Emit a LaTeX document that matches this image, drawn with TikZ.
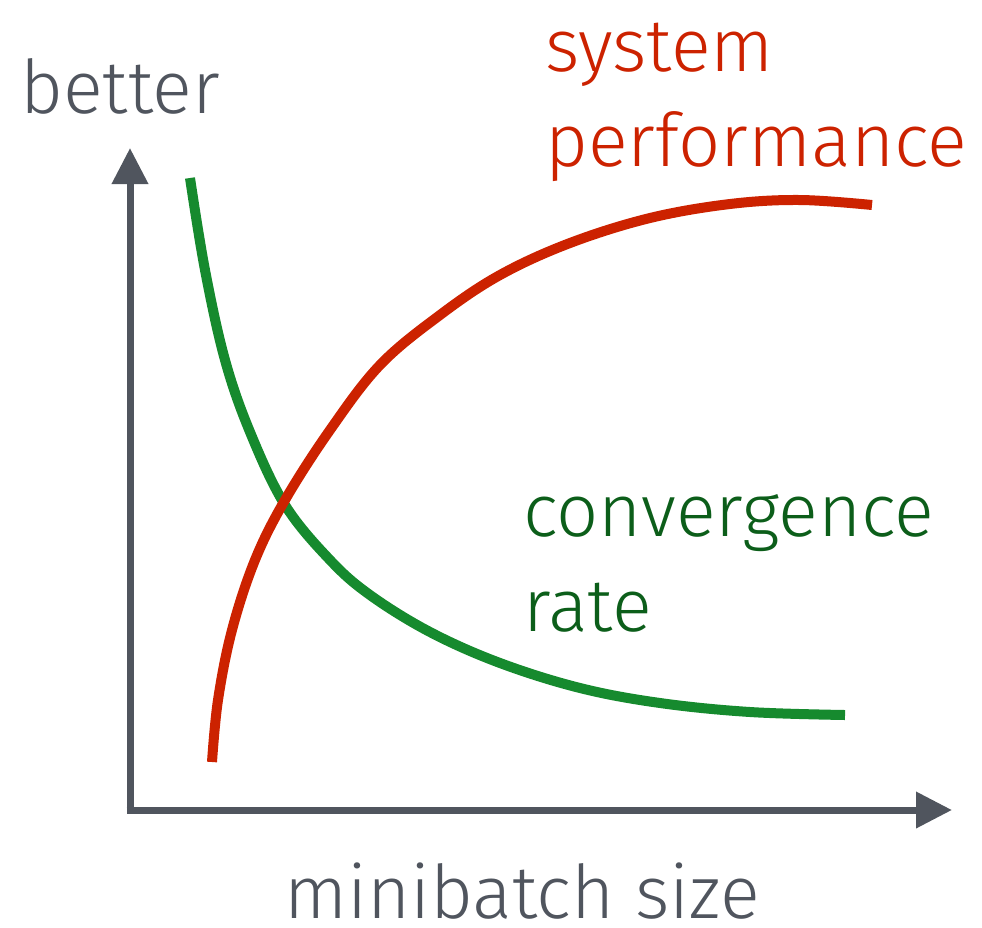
\documentclass[tikz,border=0pt]{standalone}
\usepackage{fontspec}
\setmainfont{Fira Sans Light}
\usetikzlibrary{arrows.meta}
\definecolor{axisgray}{HTML}{50555E}
\definecolor{perfred}{HTML}{CC2200}
\definecolor{convgreen}{HTML}{168A2E}
\definecolor{convtext}{HTML}{0C5E1A}
\tikzset{
  axis/.style={line width=7pt, draw=axisgray, -{Triangle[length=36pt,width=35pt]}},
  curve/.style={line width=10pt},
  lbl/.style={font=\fontsize{74}{95}\selectfont, anchor=base west, inner sep=0pt, align=left}
}
\begin{document}
\begin{tikzpicture}[x=1pt,y=-1pt]
  \useasboundingbox (0,0) rectangle (982,927);
  % axes
  \coordinate (origin) at (130,810);
  \coordinate (ytip) at (130,148);
  \coordinate (xtip) at (952,810);
  \draw[axis] ([yshift=3.5pt]origin) -- (ytip);
  \draw[axis] ([xshift=-3.5pt]origin) -- (xtip);
  % convergence rate
  \draw[curve, convgreen] plot[smooth, tension=0.6] coordinates {
    (190,178) (205,270) (225,360) (250,432) (285,505) (330,560) (370,595)
    (430,632) (500,663) (580,688) (660,703) (750,712) (845,715)};
  % system performance
  \draw[curve, perfred] plot[smooth, tension=0.6] coordinates {
    (212,762) (218,700) (232,630) (255,560) (285,500) (330,430) (380,365)
    (440,315) (500,275) (570,243) (650,218) (730,204) (800,200) (872,205)};
  % labels (base anchor sits on the last line of a two-line label)
  \node[lbl, text=axisgray] (better) at (20,113) {better};
  \node[lbl, text=perfred] (perf) at (545,166) {system\\performance};
  \node[lbl, text=convtext] (conv) at (523,631) {convergence\\rate};
  \node[lbl, text=axisgray, anchor=base] (xlabel) at (522,918) {minibatch size};
\end{tikzpicture}
\end{document}
